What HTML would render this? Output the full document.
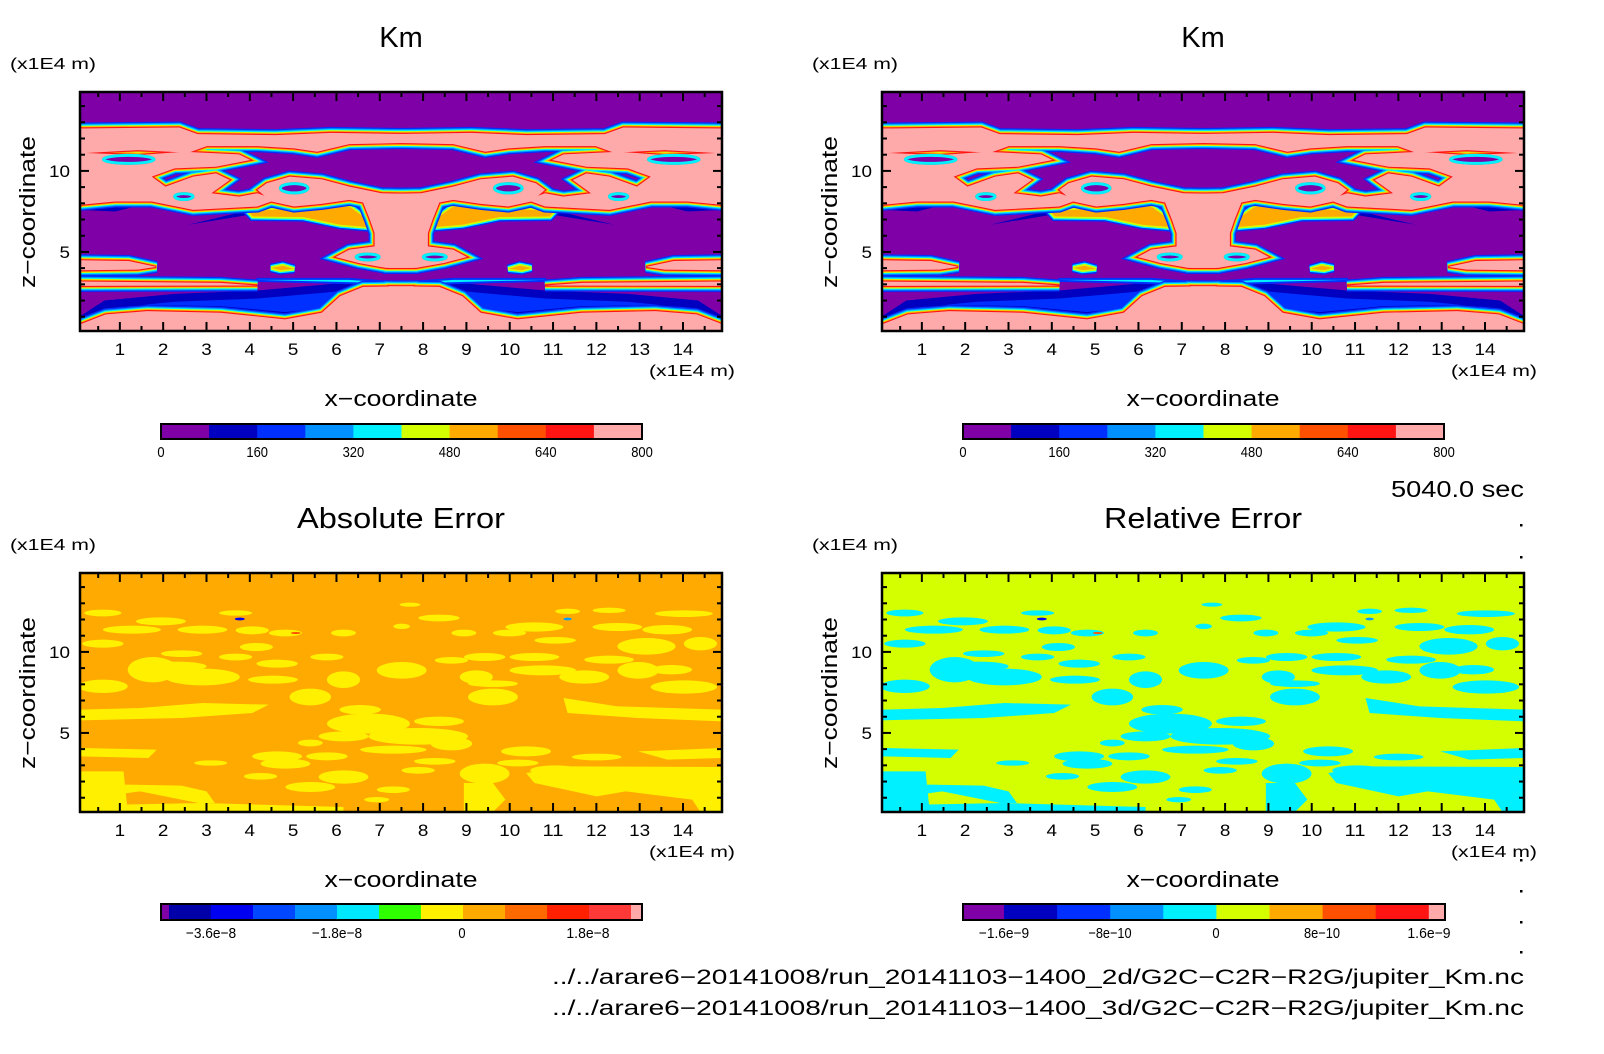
<!DOCTYPE html>
<html><head><meta charset="utf-8"><style>
html,body{margin:0;padding:0;background:#fff;overflow:hidden;}
svg{display:block;}
svg text{font-family:"Liberation Sans",sans-serif;fill:#000;}
</style></head><body>
<svg id="root" width="1604" height="1054" viewBox="0 0 1604 1054" xmlns="http://www.w3.org/2000/svg">
<defs>
<g id="kmHalf">
 <path d="M174,325 L390,322 L430,342 L600,345 L720,338 L900,342 L900,368 L760,372 L690,395 L640,385 L560,378 L450,378 L410,398 L300,390 L174,400 Z"/>
 <path d="M174,398 L300,405 L400,395 L520,403 L545,420 L470,440 L380,445 L330,470 L360,500 L420,470 L470,460 L500,480 L460,520 L520,530 L560,520 L600,540 L560,560 L420,570 L330,545 L250,545 L174,555 Z"/>
 <path d="M580,490 L630,470 L700,478 L760,500 L830,520 L900,522 L900,745 L840,745 L780,730 L730,712 L760,690 L815,680 L815,640 L805,600 L790,548 L760,540 L700,552 L640,560 L590,545 L560,510 Z"/>
 <path d="M174,722 L280,724 L340,742 L300,750 L174,752 Z"/>
 <path d="M174,786 L480,790 L560,798 L174,799 Z"/>
 <path d="M174,935 L174,915 L230,885 L320,875 L480,880 L620,900 L700,880 L740,830 L790,802 L900,800 L900,935 Z"/>
</g>
<g id="kmWings">
 <path d="M540,575 L640,565 L760,560 L800,600 L800,622 L740,615 L660,592 L550,590 Z"/>
 <path d="M590,745 L615,738 L640,748 L610,752 Z"/>
</g>
<g id="kmHoles">
 <ellipse cx="400" cy="530" rx="20" ry="9"/>
 <ellipse cx="280" cy="418" rx="55" ry="12"/>
 <ellipse cx="800" cy="712" rx="25" ry="9"/>
 <ellipse cx="640" cy="505" rx="30" ry="14"/>
</g>
<g id="errPatches">
 <path d="M5,605 L110,605 L120,727 L5,727 Z"/>
 <path d="M5,650 L120,645 L250,648 L310,665 L330,700 L290,700 L150,665 L5,690 Z"/>
 <path d="M100,705 L300,700 L640,712 L640,727 L100,727 Z"/>
 <path d="M1080,610 L1180,590 L1552,592 L1552,727 L1500,727 L1480,690 L1320,665 L1250,680 L1100,640 Z"/>
 <path d="M930,640 L1000,640 L1030,690 L1000,727 L930,727 Z"/>
 <path d="M5,420 L150,415 L300,400 L460,405 L420,430 L250,445 L5,452 Z"/>
 <path d="M1170,385 L1300,410 L1552,420 L1552,455 L1350,445 L1180,430 Z"/>
 <path d="M5,535 L190,540 L170,565 L5,560 Z"/>
 <path d="M1350,545 L1552,535 L1552,565 L1420,570 Z"/>
 <ellipse cx="60" cy="130" rx="45" ry="10"/><ellipse cx="200" cy="155" rx="60" ry="12"/>
 <ellipse cx="130" cy="180" rx="70" ry="12"/><ellipse cx="300" cy="180" rx="60" ry="12"/>
 <ellipse cx="380" cy="130" rx="40" ry="8"/><ellipse cx="420" cy="182" rx="40" ry="12"/>
 <ellipse cx="500" cy="190" rx="40" ry="10"/><ellipse cx="640" cy="190" rx="30" ry="10"/>
 <ellipse cx="780" cy="170" rx="20" ry="8"/><ellipse cx="870" cy="145" rx="50" ry="10"/>
 <ellipse cx="930" cy="190" rx="30" ry="10"/><ellipse cx="800" cy="105" rx="25" ry="6"/>
 <ellipse cx="1100" cy="172" rx="70" ry="14"/><ellipse cx="1180" cy="125" rx="30" ry="8"/>
 <ellipse cx="1280" cy="122" rx="40" ry="8"/><ellipse cx="1300" cy="172" rx="60" ry="12"/>
 <ellipse cx="1420" cy="180" rx="60" ry="14"/><ellipse cx="1460" cy="132" rx="70" ry="10"/>
 <ellipse cx="1370" cy="230" rx="70" ry="25"/><ellipse cx="1040" cy="190" rx="40" ry="10"/>
 <ellipse cx="1150" cy="212" rx="50" ry="10"/><ellipse cx="1500" cy="222" rx="40" ry="20"/>
 <ellipse cx="60" cy="222" rx="50" ry="12"/><ellipse cx="250" cy="252" rx="50" ry="10"/>
 <ellipse cx="180" cy="300" rx="60" ry="38"/><ellipse cx="300" cy="322" rx="90" ry="25"/>
 <ellipse cx="60" cy="350" rx="60" ry="20"/><ellipse cx="430" cy="232" rx="40" ry="12"/>
 <ellipse cx="480" cy="282" rx="50" ry="12"/><ellipse cx="470" cy="330" rx="60" ry="12"/>
 <ellipse cx="600" cy="262" rx="40" ry="10"/><ellipse cx="780" cy="302" rx="60" ry="25"/>
 <ellipse cx="640" cy="330" rx="40" ry="25"/><ellipse cx="560" cy="382" rx="50" ry="25"/>
 <ellipse cx="900" cy="272" rx="40" ry="10"/><ellipse cx="980" cy="262" rx="50" ry="12"/>
 <ellipse cx="960" cy="322" rx="40" ry="20"/><ellipse cx="1100" cy="262" rx="60" ry="12"/>
 <ellipse cx="1120" cy="302" rx="80" ry="15"/><ellipse cx="1220" cy="322" rx="60" ry="20"/>
 <ellipse cx="1350" cy="302" rx="50" ry="25"/><ellipse cx="1460" cy="352" rx="80" ry="20"/>
 <ellipse cx="1000" cy="382" rx="60" ry="25"/><ellipse cx="1000" cy="342" rx="60" ry="10"/>
 <ellipse cx="700" cy="462" rx="100" ry="30"/><ellipse cx="820" cy="500" rx="120" ry="25"/>
 <ellipse cx="640" cy="500" rx="60" ry="15"/><ellipse cx="760" cy="540" rx="80" ry="12"/>
 <ellipse cx="900" cy="522" rx="50" ry="20"/><ellipse cx="480" cy="560" rx="60" ry="15"/>
 <ellipse cx="1080" cy="545" rx="60" ry="15"/><ellipse cx="560" cy="520" rx="30" ry="10"/>
 <ellipse cx="500" cy="582" rx="60" ry="15"/><ellipse cx="320" cy="580" rx="40" ry="8"/>
 <ellipse cx="640" cy="622" rx="60" ry="20"/><ellipse cx="560" cy="652" rx="60" ry="15"/>
 <ellipse cx="820" cy="602" rx="40" ry="10"/><ellipse cx="980" cy="612" rx="60" ry="30"/>
 <ellipse cx="760" cy="660" rx="40" ry="10"/><ellipse cx="1250" cy="562" rx="60" ry="10"/>
 <ellipse cx="1150" cy="602" rx="60" ry="15"/><ellipse cx="720" cy="690" rx="30" ry="8"/>
 <ellipse cx="240" cy="290" rx="70" ry="14"/><ellipse cx="380" cy="262" rx="40" ry="10"/>
 <ellipse cx="1280" cy="270" rx="60" ry="12"/><ellipse cx="1430" cy="300" rx="50" ry="14"/>
 <ellipse cx="680" cy="420" rx="50" ry="14"/><ellipse cx="870" cy="455" rx="60" ry="14"/>
 <ellipse cx="860" cy="575" rx="50" ry="10"/><ellipse cx="600" cy="560" rx="50" ry="12"/>
 <ellipse cx="440" cy="620" rx="40" ry="10"/><ellipse cx="1060" cy="580" rx="50" ry="10"/>
</g>
</defs>
<g id="plots"></g>
<g id="texts"></g>
</svg>
<script>
const xTicks=[1,2,3,4,5,6,7,8,9,10,11,12,13,14];
const zTicks=[5,10];
const xRange=[0.08,14.9];
const zRange=[0.12,14.87];
const kmColors=["#8000a8","#0000c0","#0030ff","#0090ff","#00f0ff","#d4ff00","#ffaa00","#ff5000","#ff1414","#ffaaaa"];
const kmLabels=["0","160","320","480","640","800"];
const absColors=["#8000a8","#0000a8","#0000f0","#0048ff","#0090ff","#00e8ff","#30ff00","#fff000","#ffaa00","#ff6a00","#ff2000","#ff3838","#ffaaaa"];
const absLabels=["\u22123.6e\u22128","\u22121.8e\u22128","0","1.8e\u22128"];
const relLabels=["\u22121.6e\u22129","\u22128e\u221210","0","8e\u221210","1.6e\u22129"];
const titles=["Km","Km","Absolute Error","Relative Error"];
const titleLens=[0,0,208,198];
const NS="http://www.w3.org/2000/svg";
const W=642,H=239;
const panels=[{x:80,y:92},{x:882,y:92},{x:80,y:573},{x:882,y:573}];
function xs(p,v){return p.x+(v-xRange[0])/(xRange[1]-xRange[0])*W;}
function zs(p,v){return p.y+H-(v-zRange[0])/(zRange[1]-zRange[0])*H;}
function el(tag,attrs,parent){const e=document.createElementNS(NS,tag);for(const k in attrs)e.setAttribute(k,attrs[k]);parent.appendChild(e);return e;}
document.querySelectorAll('defs path, defs ellipse').forEach(p=>p.setAttribute('vector-effect','non-scaling-stroke'));
const plots=document.getElementById('plots');
const texts=document.getElementById('texts');
function kmField(p,i){
 const s=el('svg',{x:p.x,y:p.y,width:W,height:H,viewBox:"174 215 1397 720",preserveAspectRatio:"none"},plots);
 
 
 el('rect',{x:0,y:0,width:3000,height:2000,fill:"#8000a8"},s);
 const tr=["","translate(1746,0) scale(-1,1)"];
 const layer=()=>tr.map(t=>el('g',t?{transform:t}:{},s));
 layer().forEach(g=>{
  el('path',{d:"M174,905 L230,855 L380,835 L560,825 L700,808 L760,800 L760,870 L620,890 L480,872 L300,868 L200,890 Z",fill:"#0030ff",stroke:"#0000c0","stroke-width":8,"vector-effect":"non-scaling-stroke"},g);
  el('path',{d:"M410,615 L560,565 L640,562 L520,590 Z",fill:"#0000c0"},g);
  el('path',{d:"M174,555 L330,548 L250,575 L174,570 Z",fill:"#0000c0"},g);
  el('path',{d:"M560,778 L760,778 L900,792 L900,796 L560,784 Z",fill:"#00f0ff",stroke:"#0030ff","stroke-width":2,"vector-effect":"non-scaling-stroke"},g);
  [["#0030ff",9],["#00f0ff",6],["#d4ff00",3.5]].forEach(c=>el('use',{href:"#kmWings",fill:c[0],stroke:c[0],"stroke-width":c[1]},g));
  el('use',{href:"#kmWings",fill:"#ffaa00",stroke:"none"},g);
 });
 [["#0030ff",12],["#0090ff",9.5],["#00f0ff",7.5],["#d4ff00",5.5],["#ffaa00",4],["#ff1414",2.2]].forEach(c=>{
  layer().forEach(g=>el('use',{href:"#kmHalf",fill:"none",stroke:c[0],"stroke-width":c[1]},g));
 });
 layer().forEach(g=>el('use',{href:"#kmHalf",fill:"#ffaaaa",stroke:"none"},g));
 layer().forEach(g=>{
  el('use',{href:"#kmHoles",fill:"#0030ff",stroke:"#ff5000","stroke-width":3},g);
  el('use',{href:"#kmHoles",fill:"#8000a8",stroke:"#00f0ff","stroke-width":3},g);
 });
}
function errField(p,i,bg,fg){
 const s=el('svg',{x:p.x,y:p.y,width:W,height:H,viewBox:"5 10 1547 717",preserveAspectRatio:"none"},plots);
 
 
 el('rect',{x:0,y:0,width:3000,height:2000,fill:bg},s);
 el('use',{href:"#errPatches",fill:fg},s);
 el('ellipse',{cx:390,cy:148,rx:12,ry:4,fill:"#0000f0"},s);
 el('ellipse',{cx:1180,cy:148,rx:10,ry:4,fill:"#00a0ff"},s);
 el('ellipse',{cx:525,cy:190,rx:12,ry:3,fill:"#ff5000"},s);
}
kmField(panels[0],0);kmField(panels[1],1);
errField(panels[2],2,"#ffaa00","#fff000");
errField(panels[3],3,"#d4ff00","#00f0ff");
function txt(x,y,str,size,anchor,name,len,extra){
 const a=Object.assign({x:x,y:y,"font-size":size,"text-anchor":anchor||"start"},extra||{});
 if(len){a.textLength=len;a.lengthAdjust="spacingAndGlyphs";}
 const t=el('text',a,texts);
 t.textContent=str;
 
 
 return t;
}
panels.forEach((p,i)=>{
 const dy=p.y-92, dx=p.x-80;
 const g=el('g',{},plots);
 
 
 for(let v=0.5;v<=14.5;v+=0.5){
  const X=xs(p,v),major=Number.isInteger(v),L=major?9:5;
  el('line',{x1:X,x2:X,y1:p.y+H,y2:p.y+H-L,stroke:"#000","stroke-width":2},g);
  el('line',{x1:X,x2:X,y1:p.y,y2:p.y+L,stroke:"#000","stroke-width":2},g);
 }
 for(let v=1;v<=14;v++){
  const Y=zs(p,v),major=v%5===0,L=major?9:5;
  el('line',{x1:p.x,x2:p.x+L,y1:Y,y2:Y,stroke:"#000","stroke-width":2},g);
  el('line',{x1:p.x+W,x2:p.x+W-L,y1:Y,y2:Y,stroke:"#000","stroke-width":2},g);
 }
 el('rect',{x:p.x,y:p.y,width:W,height:H,fill:"none",stroke:"#000","stroke-width":2.5},g);
 xTicks.forEach(v=>txt(xs(p,v),355+dy,String(v),17,"middle","x-tick-label",String(v).length*10.5));
 zTicks.forEach(v=>txt(p.x-10,zs(p,v)+6,String(v),17,"end","z-tick-label",String(v).length*10.5));
 txt(401+dx,47+dy,titles[i],29,"middle","panel-title",titleLens[i]);
 txt(10+dx,69+dy,"(x1E4 m)",16,"start","z-unit-label",86);
 txt(735+dx,376+dy,"(x1E4 m)",16,"end","x-unit-label",86);
 txt(401+dx,406+dy,"x\u2212coordinate",22,"middle","x-axis-title",153);
 txt(0,0,"z\u2212coordinate",22,"middle","z-axis-title",152,{transform:"translate("+(35+dx)+","+(212+dy)+") rotate(-90)"});
});
function colorbar(x0,y0,w,h,edges,colors,labels,labelPos,name){
 const g=el('g',{},plots);
 
 
 for(let k=0;k<colors.length;k++){
  el('rect',{x:edges[k],y:y0,width:edges[k+1]-edges[k]+0.5,height:h,fill:colors[k]},g);
 }
 el('rect',{x:x0,y:y0,width:w,height:h,fill:"none",stroke:"#000","stroke-width":2},g);
 labels.forEach((l,k)=>txt(labelPos[k],y0+h+18,l,15,"middle","colorbar-label",l.length*7.2));
}
[161,963].forEach((x0,i)=>{
 const edges=kmColors.map((c,k)=>x0+k*48.1).concat([x0+481]);
 const lp=kmLabels.map((l,k)=>x0+k*96.2);
 colorbar(x0,424,481,15,edges,kmColors,kmLabels,lp,"km-colorbar-"+i);
});
(function(){
 const e=[161];for(let k=0;k<12;k++)e.push(169+42*k);e.push(642);
 colorbar(161,904,481,16,e,absColors,absLabels,[211,337,462,588],"abs-error-colorbar");
 const e2=[963];for(let k=0;k<9;k++)e2.push(1004+53.1*k);e2.push(1445);
 colorbar(963,904,482,16,e2,kmColors,relLabels,[1004,1110,1216,1322,1429],"rel-error-colorbar");
})();
txt(1524,497,"5040.0 sec",23,"end","time-label",133);
txt(1524,984,"../../arare6\u221220141008/run_20141103\u22121400_2d/G2C\u2212C2R\u2212R2G/jupiter_Km.nc",21,"end","file-path-2d",972);
txt(1524,1015,"../../arare6\u221220141008/run_20141103\u22121400_3d/G2C\u2212C2R\u2212R2G/jupiter_Km.nc",21,"end","file-path-3d",972);
[524,556,859,890,921,951].forEach(y=>{
 const d=el('rect',{x:1520,y:y,width:2.5,height:2.5,fill:"#000"},plots);
 
 
});
</script>
</body></html>
